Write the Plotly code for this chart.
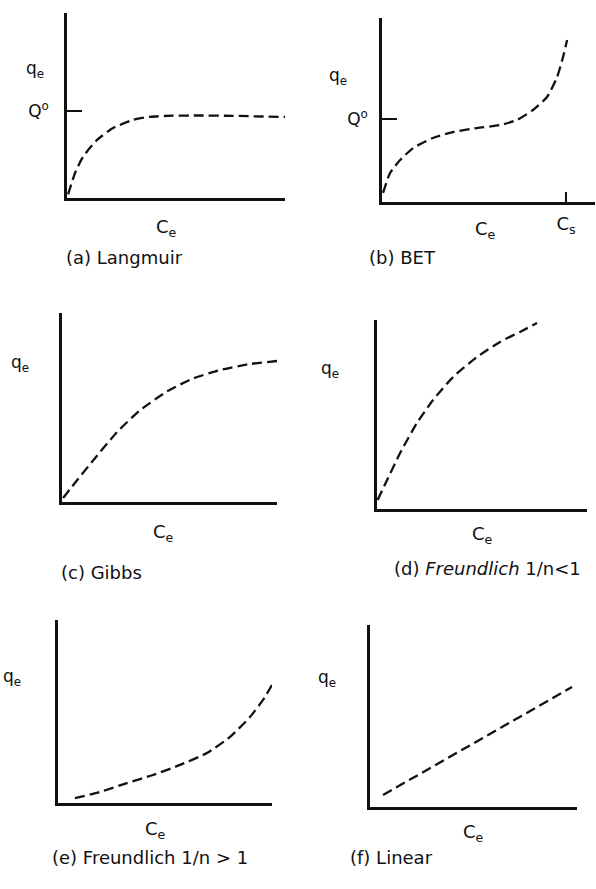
import plotly.graph_objects as go

W, H = 596, 889

# ---- isotherm curves: (C_e, q_e) in axis units, 0-100 on each axis ----
langmuir_c = [0.5, 3.7, 7.3, 13.8, 21.1, 30.3, 38.1, 48.6, 61.0, 76.1, 100]
langmuir_q = [2.0, 13.5, 22.2, 31.4, 37.8, 42.2, 43.9, 44.5, 44.6, 44.4, 43.8]
langmuir_Q0 = 47

bet_c = [0.5, 3.8, 8.5, 14.6, 23.9, 33.3, 44.6, 55.4, 63.4, 70.9, 77.5, 82.2, 85.0, 86.9]
bet_q = [5.0, 15.8, 22.8, 29.3, 34.8, 38.0, 40.2, 41.8, 44.6, 50.0, 57.1, 67.9, 78.8, 88.0]
bet_Q0 = 45.1
bet_Cs = 86.4

gibbs_c = [0.5, 7.0, 16.3, 25.6, 36.3, 48.8, 60.9, 73.5, 87.4, 100]
gibbs_q = [2.1, 11.5, 24.5, 37.0, 48.5, 58.5, 65.3, 69.8, 73.0, 74.6]

freund_lt_c = [0.3, 4.8, 11.0, 19.0, 26.7, 36.2, 47.6, 58.6, 68.1, 76.2]
freund_lt_q = [4.8, 15.3, 29.6, 45.5, 57.7, 69.8, 80.4, 88.4, 93.7, 98.4]

freund_gt_c = [7.9, 19.6, 32.2, 44.4, 57.0, 69.6, 80.4, 89.7, 95.8, 100]
freund_gt_q = [2.7, 6.0, 10.9, 15.3, 20.8, 27.3, 36.1, 47.0, 56.3, 64.5]

linear_c = [6.3, 97.6]
linear_q = [6.6, 65.9]

captions = ["(a) Langmuir", "(b) BET", "(c) Gibbs",
            "(d) <i>Freundlich</i> 1/n&lt;1", "(e) Freundlich 1/n &gt; 1", "(f) Linear"]

# ---- panel frames in pixels: axis corner and axis ends ----
# x0: y-axis position, x1: end of x-axis, yb: x-axis position, yt: top of y-axis
frames = [
    dict(x0=67, x1=285, yb=198, yt=13,  qe=(35, 70),   ce=(166, 228), cap=(124, 258)),
    dict(x0=382, x1=595, yb=202, yt=18, qe=(338, 77),  ce=(485, 230), cap=(402, 258)),
    dict(x0=62, x1=277, yb=502, yt=313, qe=(20, 363),  ce=(163, 533), cap=(101, 572)),
    dict(x0=377, x1=587, yb=509, yt=320, qe=(330, 370), ce=(482, 535), cap=(487, 568)),
    dict(x0=58, x1=272, yb=803, yt=620, qe=(12, 677),  ce=(155, 830), cap=(150, 857)),
    dict(x0=370, x1=577, yb=807, yt=625, qe=(327, 678), ce=(473, 833), cap=(391, 857)),
]

curves = [(langmuir_c, langmuir_q), (bet_c, bet_q), (gibbs_c, gibbs_q),
          (freund_lt_c, freund_lt_q), (freund_gt_c, freund_gt_q), (linear_c, linear_q)]

FONT = "DejaVu Sans"
INK = "#111111"

fig = go.Figure()
layout = dict(
    width=W, height=H, margin=dict(l=0, r=0, t=0, b=0),
    paper_bgcolor="white", plot_bgcolor="white", showlegend=False,
    font=dict(family=FONT, size=16, color=INK),
)
annotations = []

def px_x(x):
    return x / W

def px_y(y):
    return 1 - y / H

for i, (fr, (cx, cy)) in enumerate(zip(frames, curves), start=1):
    sfx = "" if i == 1 else str(i)
    fig.add_trace(go.Scatter(
        x=cx, y=cy, mode="lines", xaxis="x" + sfx, yaxis="y" + sfx,
        line=dict(color=INK, width=2.3, dash="10px,5px", shape="spline", smoothing=0.55),
        hoverinfo="skip",
    ))
    base = dict(showgrid=False, zeroline=False, showline=True, linecolor=INK,
                linewidth=2.5, range=[0, 100], fixedrange=True,
                showticklabels=False, ticks="")
    xa = dict(base, domain=[px_x(fr["x0"]), px_x(fr["x1"])], anchor="y" + sfx)
    ya = dict(base, domain=[px_y(fr["yb"]), px_y(fr["yt"])], anchor="x" + sfx)
    if i == 1:
        ya.update(tickvals=[langmuir_Q0], ticktext=["Q<sup>o</sup>"], ticks="inside",
                  ticklen=15, tickwidth=2, tickcolor=INK, showticklabels=True,
                  ticklabelstandoff=12, tickfont=dict(size=17))
    if i == 2:
        ya.update(tickvals=[bet_Q0], ticktext=["Q<sup>o</sup>"], ticks="inside",
                  ticklen=15, tickwidth=2, tickcolor=INK, showticklabels=True,
                  ticklabelstandoff=8, tickfont=dict(size=17))
        xa.update(tickvals=[bet_Cs], ticktext=["C<sub>s</sub>"], ticks="inside",
                  ticklen=10, tickwidth=2, tickcolor=INK, showticklabels=True,
                  ticklabelstandoff=4, tickfont=dict(size=18))
    layout["xaxis" + sfx] = xa
    layout["yaxis" + sfx] = ya

    annotations.append(dict(text="q<sub>e</sub>", x=px_x(fr["qe"][0]), y=px_y(fr["qe"][1]),
                            xref="paper", yref="paper", showarrow=False,
                            font=dict(size=17), xanchor="center", yanchor="middle"))
    annotations.append(dict(text="C<sub>e</sub>", x=px_x(fr["ce"][0]), y=px_y(fr["ce"][1]),
                            xref="paper", yref="paper", showarrow=False,
                            font=dict(size=18), xanchor="center", yanchor="middle"))
    annotations.append(dict(text=captions[i - 1], x=px_x(fr["cap"][0]), y=px_y(fr["cap"][1]),
                            xref="paper", yref="paper", showarrow=False,
                            font=dict(size=18), xanchor="center", yanchor="middle"))

layout["annotations"] = annotations
fig.update_layout(**layout)
fig.write_html("out.html")
